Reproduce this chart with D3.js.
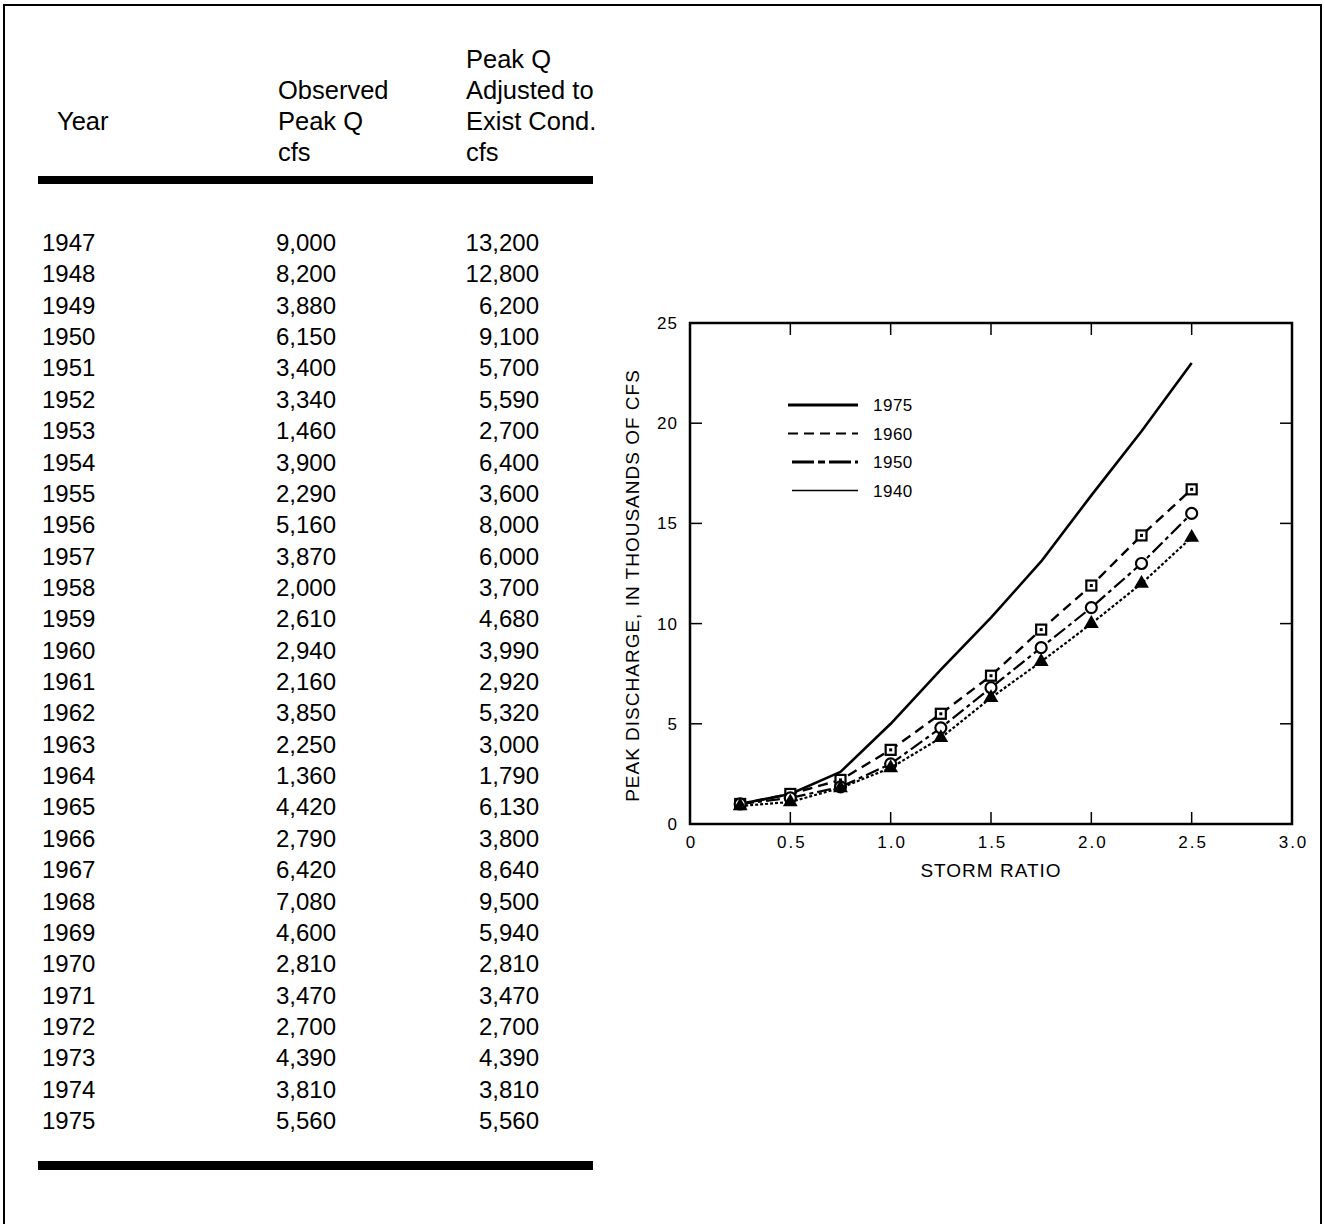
<!DOCTYPE html>
<html>
<head>
<meta charset="utf-8">
<script src="https://cdn.jsdelivr.net/npm/d3@7/dist/d3.min.js"></script>
<style>
  body { margin: 0; background: #fff; }
  svg { display: block; font-family: "Liberation Sans", Arial, Helvetica, sans-serif; }
</style>
</head>
<body>
<div id="chart"></div>
<script>
// Table data
const years = [1947, 1948, 1949, 1950, 1951, 1952, 1953, 1954, 1955, 1956, 1957, 1958, 1959, 1960,
  1961, 1962, 1963, 1964, 1965, 1966, 1967, 1968, 1969, 1970, 1971, 1972, 1973, 1974, 1975]
const observedQ = [9000, 8200, 3880, 6150, 3400, 3340, 1460, 3900, 2290, 5160, 3870, 2000, 2610, 2940,
  2160, 3850, 2250, 1360, 4420, 2790, 6420, 7080, 4600, 2810, 3470, 2700, 4390, 3810, 5560]
const adjustedQ = [13200, 12800, 6200, 9100, 5700, 5590, 2700, 6400, 3600, 8000, 6000, 3700, 4680, 3990,
  2920, 5320, 3000, 1790, 6130, 3800, 8640, 9500, 5940, 2810, 3470, 2700, 4390, 3810, 5560]

// Curve data (storm ratio vs peak discharge, thousands of cfs)
const stormRatio = [0.25, 0.5, 0.75, 1.0, 1.25, 1.5, 1.75, 2.0, 2.25, 2.5]
const q1975 = [1.0, 1.5, 2.6, 5.0, 7.7, 10.3, 13.1, 16.4, 19.6, 23.0]
const q1960 = [1.0, 1.5, 2.2, 3.7, 5.5, 7.4, 9.7, 11.9, 14.4, 16.7]
const q1950 = [1.0, 1.3, 1.85, 3.0, 4.8, 6.8, 8.8, 10.8, 13.0, 15.5]
const q1940 = [0.9, 1.1, 1.8, 2.8, 4.3, 6.3, 8.1, 10.0, 12.0, 14.3]
const xTicks = [0, 0.5, 1.0, 1.5, 2.0, 2.5, 3.0]
const yTicks = [0, 5, 10, 15, 20, 25]

const width = 1325, height = 1224
const svg = d3.select("#chart").append("svg").attr("width", width).attr("height", height)

// Outer border
svg.append("rect").attr("x", 4).attr("y", 5).attr("width", 1317).attr("height", 1225)
  .attr("fill", "none").attr("stroke", "#000").attr("stroke-width", 2)

// ---- Table ----
const tbl = svg.append("g").attr("fill", "#000")
const headLines = [
  { x: 57, lines: ["Year"], y0: 130 },
  { x: 278, lines: ["Observed", "Peak Q", "cfs"], y0: 99 },
  { x: 466, lines: ["Peak Q", "Adjusted to", "Exist Cond.", "cfs"], y0: 68 }
]
headLines.forEach(h => {
  h.lines.forEach((t, i) => {
    tbl.append("text").attr("x", h.x).attr("y", h.y0 + i * 31).attr("font-size", 25.5).text(t)
  })
})
tbl.append("rect").attr("x", 38).attr("y", 176).attr("width", 555).attr("height", 8).attr("fill", "#000")
tbl.append("rect").attr("x", 38).attr("y", 1161).attr("width", 555).attr("height", 9).attr("fill", "#000")

const rowY = d3.scaleLinear().domain([0, years.length - 1]).range([251, 1129])
const fmt = d3.format(",")
const rows = tbl.append("g").attr("font-size", 24)
years.forEach((yr, i) => {
  const y = rowY(i)
  rows.append("text").attr("x", 42).attr("y", y).text(yr)
  rows.append("text").attr("x", 336).attr("y", y).attr("text-anchor", "end").text(fmt(observedQ[i]))
  rows.append("text").attr("x", 539).attr("y", y).attr("text-anchor", "end").text(fmt(adjustedQ[i]))
})

// ---- Chart ----
const x = d3.scaleLinear().domain([0, 3]).range([690, 1292])
const y = d3.scaleLinear().domain([0, 25]).range([824, 323])

const innerTicksX = xTicks.filter(d => d > 0 && d < 3)
const innerTicksY = yTicks.filter(d => d > 0 && d < 25)

// Bottom axis with labels
const gx = svg.append("g").attr("transform", `translate(0,${y(0)})`)
  .call(d3.axisBottom(x).tickValues(xTicks).tickSize(0).tickPadding(12)
    .tickFormat(d => d === 0 ? "0" : d3.format(".1f")(d)))
gx.select(".domain").remove()
gx.attr("font-size", 17).attr("font-family", null)
gx.selectAll("text").attr("fill", "#000").attr("letter-spacing", 2).attr("dx", 1)

const gy = svg.append("g").attr("transform", `translate(${x(0)},0)`)
  .call(d3.axisLeft(y).tickValues(yTicks).tickSize(0).tickPadding(12))
gy.select(".domain").remove()
gy.attr("font-size", 17).attr("font-family", null)
gy.selectAll("text").attr("fill", "#000").attr("letter-spacing", 1)

// Inward ticks on all four sides
const tickLen = 12
const tk = svg.append("g").attr("stroke", "#000").attr("stroke-width", 1.5)
innerTicksX.forEach(d => {
  tk.append("line").attr("x1", x(d)).attr("x2", x(d)).attr("y1", y(0)).attr("y2", y(0) - tickLen)
  tk.append("line").attr("x1", x(d)).attr("x2", x(d)).attr("y1", y(25)).attr("y2", y(25) + tickLen)
})
innerTicksY.forEach(d => {
  tk.append("line").attr("x1", x(0)).attr("x2", x(0) + tickLen).attr("y1", y(d)).attr("y2", y(d))
  tk.append("line").attr("x1", x(3)).attr("x2", x(3) - tickLen).attr("y1", y(d)).attr("y2", y(d))
})

// Frame
svg.append("rect").attr("x", x(0)).attr("y", y(25)).attr("width", x(3) - x(0)).attr("height", y(0) - y(25))
  .attr("fill", "none").attr("stroke", "#000").attr("stroke-width", 2.5)

// Axis titles
svg.append("text").attr("x", 991).attr("y", 877).attr("text-anchor", "middle")
  .attr("font-size", 19).attr("letter-spacing", 1).text("STORM RATIO")
svg.append("text").attr("transform", `translate(639,${y(11.9)}) rotate(-90)`).attr("text-anchor", "middle")
  .attr("font-size", 19).attr("letter-spacing", 1).text("PEAK DISCHARGE, IN THOUSANDS OF CFS")

// Series
const series = [
  { name: "1975", values: q1975, width: 2.6, dash: null, marker: null },
  { name: "1960", values: q1960, width: 2.4, dash: "10,6", marker: "square" },
  { name: "1950", values: q1950, width: 2.2, dash: "14,4,4,4", marker: "circle" },
  { name: "1940", values: q1940, width: 2.2, dash: "3,2", marker: "triangle" }
]
const line = d3.line().x(d => x(d[0])).y(d => y(d[1]))

series.forEach(s => {
  const pts = stormRatio.map((r, i) => [r, s.values[i]])
  svg.append("path").datum(pts).attr("d", line).attr("fill", "none").attr("stroke", "#000")
    .attr("stroke-width", s.width).attr("stroke-dasharray", s.dash).attr("stroke-linejoin", "round")
  if (!s.marker) return
  const mg = svg.append("g")
  pts.forEach(p => {
    const cx = x(p[0]), cy = y(p[1])
    if (s.marker === "square") {
      mg.append("rect").attr("x", cx - 5).attr("y", cy - 5).attr("width", 10).attr("height", 10)
        .attr("fill", "#fff").attr("stroke", "#000").attr("stroke-width", 2.2)
      mg.append("rect").attr("x", cx - 1.5).attr("y", cy - 1.5).attr("width", 3).attr("height", 3).attr("fill", "#000")
    } else if (s.marker === "circle") {
      mg.append("circle").attr("cx", cx).attr("cy", cy).attr("r", 5.5)
        .attr("fill", "#fff").attr("stroke", "#000").attr("stroke-width", 2.2)
    } else {
      mg.append("path").attr("d", d3.symbol(d3.symbolTriangle, 95)())
        .attr("transform", `translate(${cx},${cy})`).attr("fill", "#000")
    }
  })
})

// Legend
const legend = [
  { label: "1975", x1: 788, width: 3.2, dash: null },
  { label: "1960", x1: 788, width: 2, dash: "10,6" },
  { label: "1950", x1: 792, width: 3, dash: "22,4,7,4" },
  { label: "1940", x1: 792, width: 1.6, dash: null }
]
const lg = svg.append("g")
legend.forEach((d, i) => {
  const ly = 405 + i * 28.5
  lg.append("line").attr("x1", d.x1).attr("x2", 858).attr("y1", ly).attr("y2", ly)
    .attr("stroke", "#000").attr("stroke-width", d.width).attr("stroke-dasharray", d.dash)
  lg.append("text").attr("x", 873).attr("y", ly + 6).attr("font-size", 17).attr("letter-spacing", 0.5).text(d.label)
})
</script>
</body>
</html>
